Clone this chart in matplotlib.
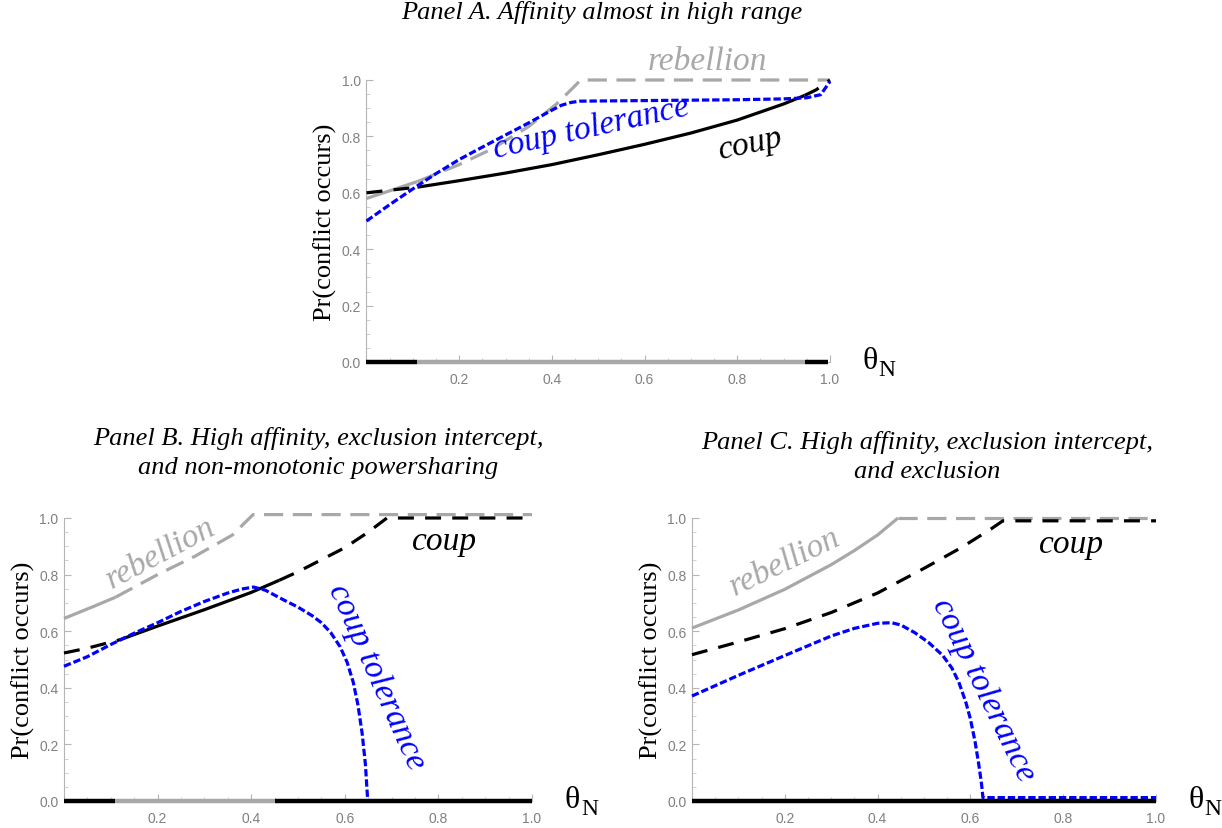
import numpy as np
import matplotlib
matplotlib.use("Agg")
import matplotlib.pyplot as plt

# ---- data (theta_N, Pr(conflict occurs)) ----
# Panel A
a_rebel_x = [0, 0.05, 0.11, 0.2, 0.27, 0.35, 0.41, 0.446, 0.462, 0.7, 1.0]
a_rebel_y = [0.58, 0.607, 0.64, 0.70, 0.755, 0.835, 0.915, 0.973, 1.0, 1.0, 1.0]
a_coup_x = [0, 0.11, 0.2, 0.3, 0.4, 0.5, 0.6, 0.7, 0.8, 0.9, 0.945, 0.97, 1.0]
a_coup_y = [0.600, 0.620, 0.643, 0.67, 0.70, 0.735, 0.772, 0.812, 0.858, 0.915, 0.945, 0.965, 1.0]
a_tol_x = [0, 0.05, 0.11, 0.15, 0.2, 0.25, 0.3, 0.35, 0.4, 0.42, 0.44, 0.46, 0.6, 0.8, 0.9,
           0.95, 0.98, 1.0]
a_tol_y = [0.50, 0.558, 0.625, 0.668, 0.718, 0.762, 0.805, 0.848, 0.893, 0.91, 0.92, 0.925,
           0.927, 0.93, 0.933, 0.937, 0.948, 0.995]
a_regimes = [0, 0.11, 0.945, 0.995]
a_regime_cols = ["black", "gray", "black"]

# Panel B
b_rebel_x = [0, 0.064, 0.11, 0.2, 0.28, 0.36, 0.404, 0.45, 1.0]
b_rebel_y = [0.645, 0.688, 0.72, 0.80, 0.865, 0.94, 1.012, 1.012, 1.012]
b_coup_x = [0, 0.05, 0.12, 0.2, 0.3, 0.4, 0.46, 0.5, 0.6, 0.65, 0.69, 0.8, 1.0]
b_coup_y = [0.523, 0.54, 0.57, 0.618, 0.676, 0.737, 0.78, 0.81, 0.895, 0.95, 1.0, 1.0, 1.0]
b_tol_x = [0, 0.05, 0.1, 0.15, 0.2, 0.25, 0.3, 0.35, 0.38, 0.405, 0.43, 0.47, 0.5, 0.53,
           0.55, 0.57, 0.59, 0.605, 0.618, 0.628, 0.637, 0.644, 0.649]
b_tol_y = [0.476, 0.51, 0.553, 0.593, 0.63, 0.67, 0.705, 0.735, 0.749, 0.756, 0.745, 0.71,
           0.685, 0.655, 0.63, 0.595, 0.545, 0.49, 0.42, 0.34, 0.24, 0.13, 0.0]
b_regimes = [0, 0.11, 0.45, 1.0]
b_regime_cols = ["black", "gray", "black"]

# Panel C
c_rebel_x = [0, 0.1, 0.2, 0.3, 0.35, 0.4, 0.444, 0.7, 1.0]
c_rebel_y = [0.611, 0.675, 0.748, 0.835, 0.885, 0.94, 1.0, 1.0, 1.0]
c_coup_x = [0, 0.1, 0.2, 0.3, 0.4, 0.5, 0.58, 0.645, 0.67, 1.0]
c_coup_y = [0.517, 0.562, 0.609, 0.666, 0.735, 0.822, 0.895, 0.962, 0.99, 0.99]
c_tol_x = [0, 0.1, 0.2, 0.3, 0.35, 0.4, 0.43, 0.45, 0.48, 0.51, 0.54, 0.56, 0.575, 0.59,
           0.6, 0.61, 0.618, 0.624, 0.627, 0.63, 1.0]
c_tol_y = [0.371, 0.444, 0.514, 0.583, 0.61, 0.628, 0.63, 0.622, 0.595, 0.56, 0.515, 0.47,
           0.42, 0.35, 0.29, 0.21, 0.13, 0.06, 0.012, 0.012, 0.012]
c_regimes = [0, 1.0]
c_regime_cols = ["black"]

titles = ["Panel A. Affinity almost in high range",
          "Panel B. High affinity, exclusion intercept,\nand non-monotonic powersharing",
          "Panel C. High affinity, exclusion intercept,\nand exclusion"]

GRAY = "#a8a8a8"
BLUE = "#0000ff"
SERIF = "Liberation Serif"
SOLID = "-"
GDASH = (0, (6.0, 3.0))
KDASH = (0, (5.0, 3.5))
BDASH = (0, (2.3, 0.9))
LABEL_FS = 24


def piece(ax, x, y, lo, hi, color, ls, lw=2.3, z=3):
    x = np.asarray(x); y = np.asarray(y)
    m = (x >= lo - 1e-9) & (x <= hi + 1e-9)
    ax.plot(x[m], y[m], color=color, ls=ls, lw=lw, clip_on=False, zorder=z,
            dash_capstyle="butt", solid_capstyle="butt", solid_joinstyle="round")


def setup(ax):
    ax.set_xlim(0, 1)
    ax.set_ylim(0, 1)
    for s in ["top", "right"]:
        ax.spines[s].set_visible(False)
    for s in ["left", "bottom"]:
        ax.spines[s].set_color("#b5b5b5")
        ax.spines[s].set_linewidth(0.8)
    ax.set_xticks([0.2, 0.4, 0.6, 0.8, 1.0])
    ax.set_xticklabels(["0.2", "0.4", "0.6", "0.8", "1.0"])
    ax.set_yticks([0, 0.2, 0.4, 0.6, 0.8, 1.0])
    ax.set_yticklabels(["0.0", "0.2", "0.4", "0.6", "0.8", "1.0"])
    ax.set_xticks(np.arange(0.05, 1.0, 0.05), minor=True)
    ax.set_yticks(np.arange(0.05, 1.0, 0.05), minor=True)
    ax.tick_params(which="major", direction="in", length=5, width=0.8, color="#b5b5b5",
                   labelcolor="#808080", labelsize=10, pad=4)
    ax.tick_params(which="minor", direction="in", length=3, width=0.6, color="#c8c8c8")
    ax.tick_params(axis="x", pad=7)
    for lab in ax.get_xticklabels() + ax.get_yticklabels():
        lab.set_family("Liberation Sans")
    ax.set_ylabel("Pr(conflict occurs)", family=SERIF, fontsize=19, labelpad=3)
    ax.text(1.07, 0.005, "\u03b8", transform=ax.transAxes, family=SERIF, fontsize=23,
            va="center", ha="left")
    ax.text(1.105, -0.028, "N", transform=ax.transAxes, family=SERIF, fontsize=17,
            va="center", ha="left")


def regimes(ax, edges, cols):
    for i, c in enumerate(cols):
        ax.plot([edges[i], edges[i + 1]], [0, 0], color=("black" if c == "black" else GRAY),
                lw=3.2, solid_capstyle="butt", clip_on=False, zorder=6)


fig = plt.figure(figsize=(12.22, 8.29), dpi=100)
axA = fig.add_axes([366.5 / 1222, 1 - 363 / 829, 463.5 / 1222, 282 / 829])
axB = fig.add_axes([64 / 1222, 1 - 802 / 829, 468 / 1222, 283 / 829])
axC = fig.add_axes([692 / 1222, 1 - 802 / 829, 464 / 1222, 283 / 829])
for ax in (axA, axB, axC):
    setup(ax)

# Panel A
regimes(axA, a_regimes, a_regime_cols)
piece(axA, a_rebel_x, a_rebel_y, 0, 0.11, GRAY, SOLID)
piece(axA, a_rebel_x, a_rebel_y, 0.11, 1.0, GRAY, GDASH)
piece(axA, a_coup_x, a_coup_y, 0, 0.11, "black", KDASH)
piece(axA, a_coup_x, a_coup_y, 0.11, 0.945, "black", SOLID)
piece(axA, a_coup_x, a_coup_y, 0.945, 1.0, "black", KDASH)
piece(axA, a_tol_x, a_tol_y, 0, 1.0, BLUE, BDASH, z=4)
axA.text(0.735, 1.067, "rebellion", color=GRAY, style="italic", family=SERIF,
         fontsize=LABEL_FS, ha="center", va="center")
axA.text(0.486, 0.83, "coup tolerance", color=BLUE, style="italic", family=SERIF,
         fontsize=LABEL_FS, ha="center", va="center", rotation=12.5)
axA.text(0.828, 0.775, "coup", color="black", style="italic", family=SERIF,
         fontsize=LABEL_FS, ha="center", va="center", rotation=12)

# Panel B
regimes(axB, b_regimes, b_regime_cols)
piece(axB, b_rebel_x, b_rebel_y, 0, 0.11, GRAY, SOLID)
piece(axB, b_rebel_x, b_rebel_y, 0.11, 1.0, GRAY, GDASH)
piece(axB, b_coup_x, b_coup_y, 0, 0.12, "black", KDASH)
piece(axB, b_coup_x, b_coup_y, 0.12, 0.46, "black", SOLID)
piece(axB, b_coup_x, b_coup_y, 0.46, 1.0, "black", KDASH)
piece(axB, b_tol_x, b_tol_y, 0, 1.0, BLUE, BDASH, z=4)
axB.text(0.207, 0.876, "rebellion", color=GRAY, style="italic", family=SERIF,
         fontsize=LABEL_FS, ha="center", va="center", rotation=28)
axB.text(0.814, 0.919, "coup", color="black", style="italic", family=SERIF,
         fontsize=LABEL_FS, ha="center", va="center")
axB.text(0.667, 0.442, "coup tolerance", color=BLUE, style="italic", family=SERIF,
         fontsize=LABEL_FS, ha="center", va="center", rotation=-66)

# Panel C
regimes(axC, c_regimes, c_regime_cols)
piece(axC, c_rebel_x, c_rebel_y, 0, 0.444, GRAY, SOLID)
piece(axC, c_rebel_x, c_rebel_y, 0.444, 1.0, GRAY, GDASH)
piece(axC, c_coup_x, c_coup_y, 0, 1.0, "black", KDASH)
piece(axC, c_tol_x, c_tol_y, 0, 1.0, BLUE, BDASH, z=4)
axC.text(0.2, 0.845, "rebellion", color=GRAY, style="italic", family=SERIF,
         fontsize=LABEL_FS, ha="center", va="center", rotation=26)
axC.text(0.819, 0.908, "coup", color="black", style="italic", family=SERIF,
         fontsize=LABEL_FS, ha="center", va="center")
axC.text(0.629, 0.396, "coup tolerance", color=BLUE, style="italic", family=SERIF,
         fontsize=LABEL_FS, ha="center", va="center", rotation=-64)

# titles
fig.text(602 / 1222, 1 - 13 / 829, titles[0], family=SERIF, style="italic", fontsize=19,
         ha="center", va="center")
fig.text(318 / 1222, 1 - 453 / 829, titles[1], family=SERIF, style="italic", fontsize=19,
         ha="center", va="center", linespacing=1.4)
fig.text(927 / 1222, 1 - 457 / 829, titles[2], family=SERIF, style="italic", fontsize=19,
         ha="center", va="center", linespacing=1.4)

fig.savefig("out.png", dpi=100)
